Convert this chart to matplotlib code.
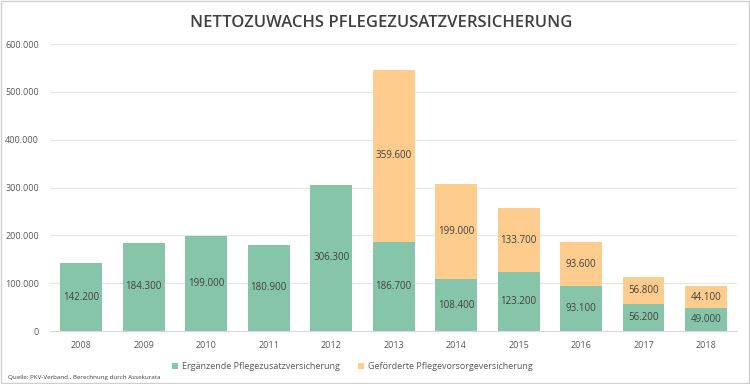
import matplotlib.pyplot as plt
from matplotlib.patches import Rectangle

years = ['2008', '2009', '2010', '2011', '2012', '2013', '2014', '2015', '2016', '2017', '2018']
ergaenzende = [142200, 184300, 199000, 180900, 306300, 186700, 108400, 123200, 93100, 56200, 49000]
gefoerderte = [0, 0, 0, 0, 0, 359600, 199000, 133700, 93600, 56800, 44100]
y_ticks = [0, 100000, 200000, 300000, 400000, 500000, 600000]

green = '#86c5a9'
orange = '#fecc8c'


def fmt(v):
    return f'{v:,}'.replace(',', '.')


plt.rcParams['font.family'] = ['Open Sans', 'DejaVu Sans']

fig = plt.figure(figsize=(7.5, 3.84), dpi=100)
ax = fig.add_axes([0.0667, 0.138, 0.9163, 0.747])

x = range(len(years))
ax.bar(x, ergaenzende, width=0.67, color=green, label='Ergänzende Pflegezusatzversicherung', zorder=2)
ax.bar(x, gefoerderte, width=0.67, bottom=ergaenzende, color=orange,
       label='Geförderte Pflegevorsorgeversicherung', zorder=2)

for i in x:
    ax.text(i, ergaenzende[i] / 2, fmt(ergaenzende[i]), ha='center', va='center',
            fontsize=7, color='#404040', zorder=3)
    if gefoerderte[i]:
        ax.text(i, ergaenzende[i] + gefoerderte[i] / 2, fmt(gefoerderte[i]), ha='center',
                va='center', fontsize=7, color='#404040', zorder=3)

ax.set_xlim(-0.5, len(years) - 0.5)
ax.set_ylim(0, 600000)
ax.set_yticks(y_ticks)
ax.set_yticklabels([fmt(v) for v in y_ticks])
ax.set_xticks(list(x))
ax.set_xticklabels(years)
ax.tick_params(axis='both', length=0, labelsize=6.5, colors='#595959')
ax.tick_params(axis='y', pad=8)
ax.tick_params(axis='x', pad=7)
ax.grid(axis='y', color='#e6e6e6', linewidth=0.8, zorder=0)
for s in ['top', 'right', 'left']:
    ax.spines[s].set_visible(False)
ax.spines['bottom'].set_color('#d9d9d9')

fig.text(0.508, 0.94, 'NETTOZUWACHS PFLEGEZUSATZVERSICHERUNG', ha='center', va='center',
         fontsize=12, fontweight='semibold', color='#404040')

ax.legend(loc='center', bbox_to_anchor=(0.44, -0.125), ncol=2, frameon=False,
          fontsize=6.5, handlelength=0.7, handleheight=0.7, columnspacing=2,
          handletextpad=0.4, labelcolor='#595959')

fig.text(0.01, 0.018, 'Quelle: PKV-Verband., Berechnung durch Assekurata', fontsize=4.5,
         color='#404040', ha='left', va='center')

fig.patches.append(Rectangle((0.001, 0.002), 0.997, 0.995, transform=fig.transFigure,
                             fill=False, edgecolor='#d0d0d0', linewidth=1))

fig.savefig('out.png', dpi=100)
